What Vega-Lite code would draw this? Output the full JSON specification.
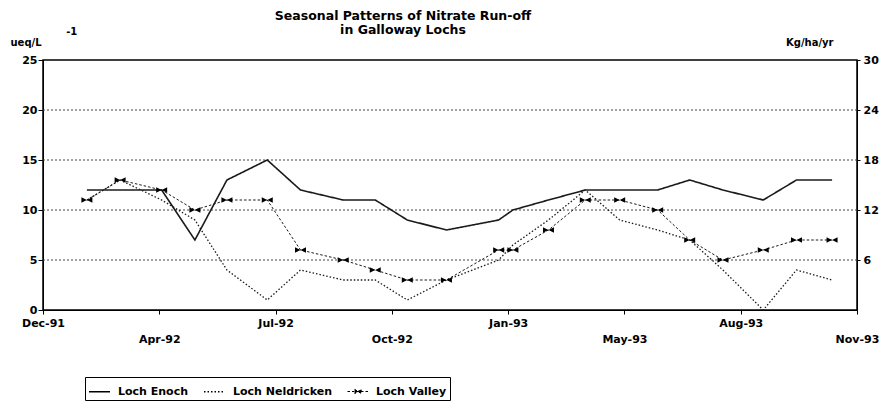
{
  "$schema": "https://vega.github.io/schema/vega-lite/v6.json",
  "width": 814,
  "height": 250,
  "autosize": {"type": "none"},
  "padding": {"left": 43, "top": 60, "right": 23, "bottom": 96},
  "background": "white",
  "config": {
    "font": "DejaVu Sans",
    "view": {"stroke": "black", "strokeWidth": 1.5},
    "axis": {"labelFont": "DejaVu Sans", "labelFontWeight": "bold", "labelFontSize": 11, "labelColor": "black", "titleColor": "black", "domainColor": "black", "tickColor": "black", "grid": false}
  },
  "title": {
    "text": ["Seasonal Patterns of Nitrate Run-off", "in Galloway Lochs"],
    "font": "DejaVu Sans", "fontSize": 12.5, "fontWeight": "bold", "lineHeight": 13.5,
    "anchor": "middle", "frame": "group", "dx": -47, "dy": 14, "color": "black"
  },
  "datasets": {
    "grid": [{"kg": 6}, {"kg": 12}, {"kg": 18}, {"kg": 24}],
    "lochs": [
      {"date": "1992-02-06", "lake": "Loch Enoch", "value": 12},
      {"date": "1992-03-05", "lake": "Loch Enoch", "value": 12},
      {"date": "1992-04-09", "lake": "Loch Enoch", "value": 12},
      {"date": "1992-05-07", "lake": "Loch Enoch", "value": 7},
      {"date": "1992-06-03", "lake": "Loch Enoch", "value": 13},
      {"date": "1992-07-07", "lake": "Loch Enoch", "value": 15},
      {"date": "1992-08-04", "lake": "Loch Enoch", "value": 12},
      {"date": "1992-09-09", "lake": "Loch Enoch", "value": 11},
      {"date": "1992-10-06", "lake": "Loch Enoch", "value": 11},
      {"date": "1992-11-02", "lake": "Loch Enoch", "value": 9},
      {"date": "1992-12-05", "lake": "Loch Enoch", "value": 8},
      {"date": "1993-01-18", "lake": "Loch Enoch", "value": 9},
      {"date": "1993-01-30", "lake": "Loch Enoch", "value": 10},
      {"date": "1993-03-01", "lake": "Loch Enoch", "value": 11},
      {"date": "1993-04-01", "lake": "Loch Enoch", "value": 12},
      {"date": "1993-04-30", "lake": "Loch Enoch", "value": 12},
      {"date": "1993-06-01", "lake": "Loch Enoch", "value": 12},
      {"date": "1993-06-28", "lake": "Loch Enoch", "value": 13},
      {"date": "1993-07-26", "lake": "Loch Enoch", "value": 12},
      {"date": "1993-08-29", "lake": "Loch Enoch", "value": 11},
      {"date": "1993-09-26", "lake": "Loch Enoch", "value": 13},
      {"date": "1993-10-26", "lake": "Loch Enoch", "value": 13},
      {"date": "1992-02-06", "lake": "Loch Neldricken", "value": 11},
      {"date": "1992-03-05", "lake": "Loch Neldricken", "value": 13},
      {"date": "1992-04-09", "lake": "Loch Neldricken", "value": 11},
      {"date": "1992-05-07", "lake": "Loch Neldricken", "value": 9},
      {"date": "1992-06-03", "lake": "Loch Neldricken", "value": 4},
      {"date": "1992-07-07", "lake": "Loch Neldricken", "value": 1},
      {"date": "1992-08-04", "lake": "Loch Neldricken", "value": 4},
      {"date": "1992-09-09", "lake": "Loch Neldricken", "value": 3},
      {"date": "1992-10-06", "lake": "Loch Neldricken", "value": 3},
      {"date": "1992-11-02", "lake": "Loch Neldricken", "value": 1},
      {"date": "1992-12-05", "lake": "Loch Neldricken", "value": 3},
      {"date": "1993-01-18", "lake": "Loch Neldricken", "value": 5},
      {"date": "1993-01-30", "lake": "Loch Neldricken", "value": 6.5},
      {"date": "1993-03-01", "lake": "Loch Neldricken", "value": 9},
      {"date": "1993-04-01", "lake": "Loch Neldricken", "value": 12},
      {"date": "1993-04-30", "lake": "Loch Neldricken", "value": 9},
      {"date": "1993-06-01", "lake": "Loch Neldricken", "value": 8},
      {"date": "1993-06-28", "lake": "Loch Neldricken", "value": 7},
      {"date": "1993-07-26", "lake": "Loch Neldricken", "value": 4},
      {"date": "1993-08-29", "lake": "Loch Neldricken", "value": 0},
      {"date": "1993-09-26", "lake": "Loch Neldricken", "value": 4},
      {"date": "1993-10-26", "lake": "Loch Neldricken", "value": 3},
      {"date": "1992-02-06", "lake": "Loch Valley", "value": 11},
      {"date": "1992-03-05", "lake": "Loch Valley", "value": 13},
      {"date": "1992-04-09", "lake": "Loch Valley", "value": 12},
      {"date": "1992-05-07", "lake": "Loch Valley", "value": 10},
      {"date": "1992-06-03", "lake": "Loch Valley", "value": 11},
      {"date": "1992-07-07", "lake": "Loch Valley", "value": 11},
      {"date": "1992-08-04", "lake": "Loch Valley", "value": 6},
      {"date": "1992-09-09", "lake": "Loch Valley", "value": 5},
      {"date": "1992-10-06", "lake": "Loch Valley", "value": 4},
      {"date": "1992-11-02", "lake": "Loch Valley", "value": 3},
      {"date": "1992-12-05", "lake": "Loch Valley", "value": 3},
      {"date": "1993-01-18", "lake": "Loch Valley", "value": 6},
      {"date": "1993-01-30", "lake": "Loch Valley", "value": 6},
      {"date": "1993-03-01", "lake": "Loch Valley", "value": 8},
      {"date": "1993-04-01", "lake": "Loch Valley", "value": 11},
      {"date": "1993-04-30", "lake": "Loch Valley", "value": 11},
      {"date": "1993-06-01", "lake": "Loch Valley", "value": 10},
      {"date": "1993-06-28", "lake": "Loch Valley", "value": 7},
      {"date": "1993-07-26", "lake": "Loch Valley", "value": 5},
      {"date": "1993-08-29", "lake": "Loch Valley", "value": 6},
      {"date": "1993-09-26", "lake": "Loch Valley", "value": 7},
      {"date": "1993-10-26", "lake": "Loch Valley", "value": 7}
    ]
  },
  "layer": [
    {
      "data": {"name": "grid"},
      "mark": {"type": "rule", "strokeDash": [2, 2], "color": "#444444", "strokeWidth": 1},
      "encoding": {
        "y": {
          "field": "kg", "type": "quantitative",
          "scale": {"domain": [0, 30], "nice": false, "zero": true},
          "axis": {
            "orient": "right", "values": [6, 12, 18, 24, 30],
            "title": "Kg/ha/yr", "titleAngle": 0, "titleAlign": "right", "titleBaseline": "alphabetic",
            "titleX": -24, "titleY": -15, "titleFontSize": 10, "titleFont": "DejaVu Sans", "titleFontWeight": "bold",
            "tickSize": 3, "labelPadding": 3
          }
        }
      }
    },
    {
      "data": {"name": "lochs"},
      "layer": [
        {
          "mark": {"type": "line", "color": "#1a1a1a"},
          "encoding": {
            "x": {
              "field": "date", "type": "temporal",
              "scale": {"type": "utc", "domain": [{"year": 1991, "month": 12, "date": 31, "utc": true}, {"year": 1993, "month": 11, "date": 16, "utc": true}]},
              "axis": {
                "title": null, "format": "%b-%y", "labelFlush": false, "labelOverlap": false,
                "values": [
                  {"year": 1991, "month": 12, "date": 31, "utc": true},
                  {"year": 1992, "month": 4, "date": 7, "utc": true},
                  {"year": 1992, "month": 7, "date": 14, "utc": true},
                  {"year": 1992, "month": 10, "date": 20, "utc": true},
                  {"year": 1993, "month": 1, "date": 26, "utc": true},
                  {"year": 1993, "month": 5, "date": 4, "utc": true},
                  {"year": 1993, "month": 8, "date": 10, "utc": true},
                  {"year": 1993, "month": 11, "date": 16, "utc": true}
                ],
                "labelExpr": "indexof(['Apr-92','Oct-92','May-93','Nov-93'], datum.label) >= 0 ? ['', datum.label] : datum.label",
                "labelBaseline": "top", "labelLineHeight": 16, "tickSize": 4, "labelPadding": 3
              }
            },
            "y": {
              "field": "value", "type": "quantitative",
              "scale": {"domain": [0, 25], "nice": false},
              "axis": {
                "values": [0, 5, 10, 15, 20, 25], "tickSize": 5, "labelPadding": 1,
                "title": ["\u200b\u00a0\u00a0\u00a0\u00a0\u00a0\u00a0\u00a0\u00a0\u00a0\u00a0\u00a0\u00a0\u00a0\u00a0\u00a0\u00a0-1", "ueq/L"],
                "titleAngle": 0, "titleAlign": "left", "titleBaseline": "alphabetic",
                "titleX": -33, "titleY": -26, "titleFontSize": 10, "titleFont": "DejaVu Sans", "titleFontWeight": "bold", "titleLineHeight": 11
              }
            },
            "strokeDash": {
              "field": "lake", "type": "nominal",
              "scale": {"domain": ["Loch Enoch", "Loch Neldricken", "Loch Valley"], "range": [[1, 0], [1.5, 2], [2.5, 2]]},
              "legend": {
                "orient": "none", "legendX": 42, "legendY": 317, "direction": "horizontal", "title": null,
                "strokeColor": "black", "fillColor": "white", "padding": 3,
                "labelFont": "DejaVu Sans", "labelFontWeight": "bold", "labelFontSize": 11, "labelColor": "black",
                "symbolType": "stroke", "symbolSize": 441, "symbolStrokeColor": "black", "symbolStrokeWidth": 1.2,
                "labelOffset": 7, "columnPadding": 12,
                "encode": {
                  "symbols": {
                    "update": {
                      "shape": {"signal": "datum.value === 'Loch Valley' ? 'M-1,0H1M-0.3,-0.2L0.3,0.2L0.3,-0.2L-0.3,0.2Z' : 'stroke'"},
                      "fill": {"signal": "datum.value === 'Loch Valley' ? 'black' : 'transparent'"},
                      "stroke": {"value": "black"},
                      "strokeWidth": {"signal": "datum.value === 'Loch Enoch' ? 1.5 : 1"},
                      "strokeDash": {"signal": "datum.value === 'Loch Enoch' ? [1, 0] : datum.value === 'Loch Neldricken' ? [1.5, 2] : [2.5, 2]"},
                      "opacity": {"value": 1}
                    }
                  }
                }
              }
            },
            "strokeWidth": {
              "field": "lake", "type": "nominal",
              "scale": {"domain": ["Loch Enoch", "Loch Neldricken", "Loch Valley"], "range": [1.6, 1, 1]},
              "legend": null
            }
          }
        },
        {
          "transform": [{"filter": "datum.lake === 'Loch Valley'"}],
          "mark": {"type": "point", "shape": "M-1,-0.5L1,0.5L1,-0.5L-1,0.5Z", "filled": true, "size": 121, "color": "black", "opacity": 1},
          "encoding": {
            "x": {"field": "date", "type": "temporal"},
            "y": {"field": "value", "type": "quantitative"}
          }
        }
      ]
    }
  ],
  "resolve": {"scale": {"y": "independent"}, "axis": {"y": "independent"}}
}
